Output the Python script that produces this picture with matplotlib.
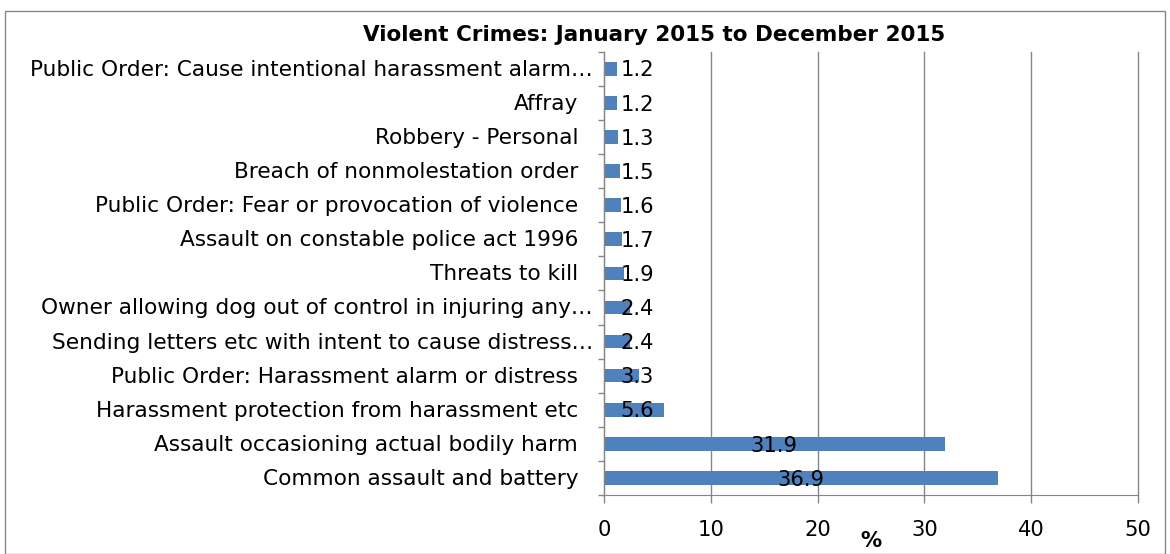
import matplotlib
matplotlib.use("Agg")
import matplotlib.pyplot as plt
from matplotlib.patches import Rectangle
from matplotlib.transforms import offset_copy

categories = [
    "Public Order: Cause intentional harassment alarm…",
    "Affray",
    "Robbery - Personal",
    "Breach of nonmolestation order",
    "Public Order: Fear or provocation of violence",
    "Assault on constable police act 1996",
    "Threats to kill",
    "Owner allowing dog out of control in injuring any…",
    "Sending letters etc with intent to cause distress…",
    "Public Order: Harassment alarm or distress",
    "Harassment protection from harassment etc",
    "Assault occasioning actual bodily harm",
    "Common assault and battery",
]
values = [1.2, 1.2, 1.3, 1.5, 1.6, 1.7, 1.9, 2.4, 2.4, 3.3, 5.6, 31.9, 36.9]
xticks = [0, 10, 20, 30, 40, 50]
title = "Violent Crimes: January 2015 to December 2015"
xlabel = "%"

plt.rcParams['font.family'] = ['DejaVu Sans']
FS = 15.2
CFS = 15.6
W, H = 1170, 554
fig = plt.figure(figsize=(W / 100, H / 100), dpi=100)
ax = fig.add_axes([604 / W, 1 - 495 / H, (1138 - 604) / W, (495 - 51.7) / H])

gray = "#868686"
ypos = list(range(len(categories)))
ax.barh(ypos, values, height=0.4, color="#4F81BD", zorder=3)
for y, v in zip(ypos, values):
    ax.text(max(v / 2, 3.1), y + 0.05, f"{v:.1f}", ha="center", va="center",
            fontsize=FS, color="black", zorder=4)

ax.set_ylim(len(categories) - 0.5, -0.5)
ax.set_xlim(0, 50)
ax.set_xticks(xticks)
ax.set_xticklabels([str(t) for t in xticks], fontsize=FS)
ax.set_yticks(ypos)
ax.set_yticklabels([])
ax.set_yticks([i - 0.5 for i in range(len(categories) + 1)], minor=True)
ax.tick_params(axis="y", which="major", length=0)
ax.tick_params(axis="y", which="minor", length=4, color=gray, width=1)
ax.tick_params(axis="x", length=6, color=gray, width=1, pad=12)
ax.grid(axis="x", color=gray, linewidth=1, zorder=0)
for gl in ax.get_xgridlines():
    gl.set_clip_on(False)
for s in ["top", "right"]:
    ax.spines[s].set_visible(False)
ax.spines["left"].set_color(gray)
ax.spines["bottom"].set_color(gray)
ax.spines["left"].set_zorder(5)

base = ax.get_yaxis_transform()
for y, lab in zip(ypos, categories):
    off = -11 if lab.endswith("…") else -26
    tr = offset_copy(base, fig=fig, x=off, y=0, units="dots")
    ax.text(0, y + 0.03, lab, transform=tr, ha="right", va="center",
            fontsize=CFS, clip_on=False)

fig.text(654.5 / W, 1 - 35 / H, title, ha="center", va="center",
         fontsize=15.5, fontweight="bold")
fig.text(871 / W, 1 - 541 / H, xlabel, ha="center", va="center",
         fontsize=FS, fontweight="bold")

fig.patches.append(Rectangle((5 / W, 0), (1165 - 5) / W, 1 - 11 / H,
                             transform=fig.transFigure, fill=False,
                             edgecolor=gray, linewidth=1))

fig.savefig("out.png", dpi=100)
